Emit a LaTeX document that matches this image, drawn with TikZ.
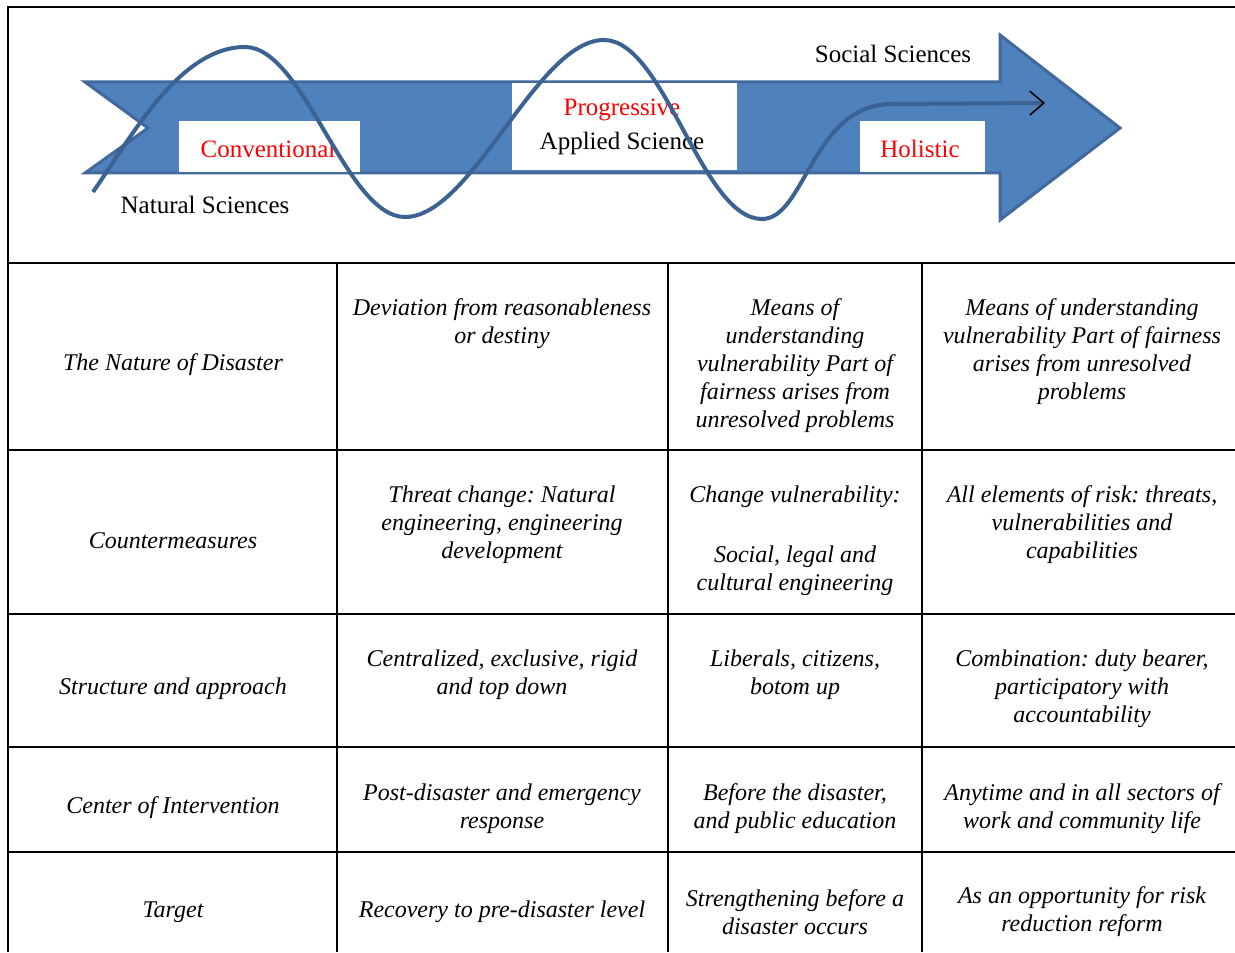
\documentclass[tikz,border=0pt]{standalone}
\usepackage{fontspec}
\setmainfont{Liberation Serif}
\usepackage{xcolor}
\usepackage{tikz}
\usetikzlibrary{arrows.meta}
\frenchspacing

\definecolor{arrowblue}{HTML}{4F81BD}
\definecolor{arrowedge}{HTML}{41699B}
\definecolor{wavecolor}{HTML}{3B6293}

\tikzset{
    cell/.style={align=center, inner sep=0pt, font=\fontsize{12}{14}\selectfont\itshape},
    stage/.style={inner sep=0pt, font=\fontsize{12.5}{15}\selectfont},
    rule/.style={line width=1pt, black},
}

\begin{document}
\begin{tikzpicture}[x=0.5pt, y=0.5pt]
        \useasboundingbox (0,0) rectangle (1235,-952);

        % Draw the big arrow
        \filldraw[fill=arrowblue, draw=arrowedge, line width=1.5pt, line join=miter]
            (85,-82) -- (1000,-82) -- (1000,-35) -- (1120,-128) -- (1000,-220)
            -- (1000,-173) -- (85,-173) -- (148,-128) -- cycle;

        % White boxes on the arrow
        \fill[white] (179,-121) rectangle (360,-172);
        \fill[white] (512,-83) rectangle (737,-170);
        \fill[white] (860,-121) rectangle (985,-172);

        \node[stage, red]   (conv) at (268,-149) {Conventional};
        \node[stage, red]   (prog) at (622,-110) {Progressive};
        \node[stage]        (appl) at (622,-143) {Applied Science};
        \node[stage, red]   (holi) at (920,-149) {Holistic};
        \node[stage]        (soc)  at (893,-54)  {Social Sciences};
        \node[stage]        (nat)  at (205,-205) {Natural Sciences};

        % Draw the wave
        \draw[wavecolor, line width=2pt, looseness=0.65,
              -{Straight Barb[black, length=7pt, width=12pt, line width=0.8pt]}]
            (93,-192) to[out=55, in=180, looseness=0.8] (245,-47)
            to[out=0, in=180] (405,-217)
            to[out=0, in=180] (604,-40)
            to[out=0, in=180] (762,-219)
            .. controls (805,-219) and (812,-106) .. (890,-104) -- (1045,-103);

        % Draw frame and table
        \draw[rule, line width=1.3pt] (8,-952) -- (8,-7) -- (1235,-7);
        \foreach \y in {263,450,614,747,852}
            \draw[rule] (8,-\y) -- (1235,-\y);
        \foreach \x in {337,668,922}
            \draw[rule] (\x,-263) -- (\x,-952);

        % Row texts
        \node[cell] (nature)  at (173,-365)  {The Nature of Disaster};
        \node[cell] (nature1) at (502,-324)  {Deviation from reasonableness\\or destiny};
        \node[cell] (nature2) at (795,-366)  {Means of\\understanding\\vulnerability Part of\\fairness arises from\\unresolved problems};
        \node[cell] (nature3) at (1082,-352) {Means of understanding\\vulnerability Part of fairness\\arises from unresolved\\problems};

        \node[cell] (counter)  at (173,-541)  {Countermeasures};
        \node[cell] (counter1) at (502,-525)  {Threat change: Natural\\engineering, engineering\\development};
        \node[cell] (counter2) at (795,-541)  {Change vulnerability:\\[16pt]Social, legal and\\cultural engineering};
        \node[cell] (counter3) at (1082,-525) {All elements of risk: threats,\\vulnerabilities and\\capabilities};

        \node[cell] (struct)  at (173,-689)  {Structure and approach};
        \node[cell] (struct1) at (502,-675)  {Centralized, exclusive, rigid\\and top down};
        \node[cell] (struct2) at (795,-675)  {Liberals, citizens,\\botom up};
        \node[cell] (struct3) at (1082,-689) {Combination: duty bearer,\\participatory with\\accountability};

        \node[cell] (center)  at (173,-808)  {Center of Intervention};
        \node[cell] (center1) at (502,-809)  {Post-disaster and emergency\\response};
        \node[cell] (center2) at (795,-809)  {Before the disaster,\\and public education};
        \node[cell] (center3) at (1082,-809) {Anytime and in all sectors of\\work and community life};

        \node[cell] (target)  at (173,-912)  {Target};
        \node[cell] (target1) at (502,-912)  {Recovery to pre-disaster level};
        \node[cell] (target2) at (795,-912)  {Strengthening before a\\disaster occurs};
        \node[cell] (target3) at (1082,-912) {As an opportunity for risk\\reduction reform};
\end{tikzpicture}
\end{document}
